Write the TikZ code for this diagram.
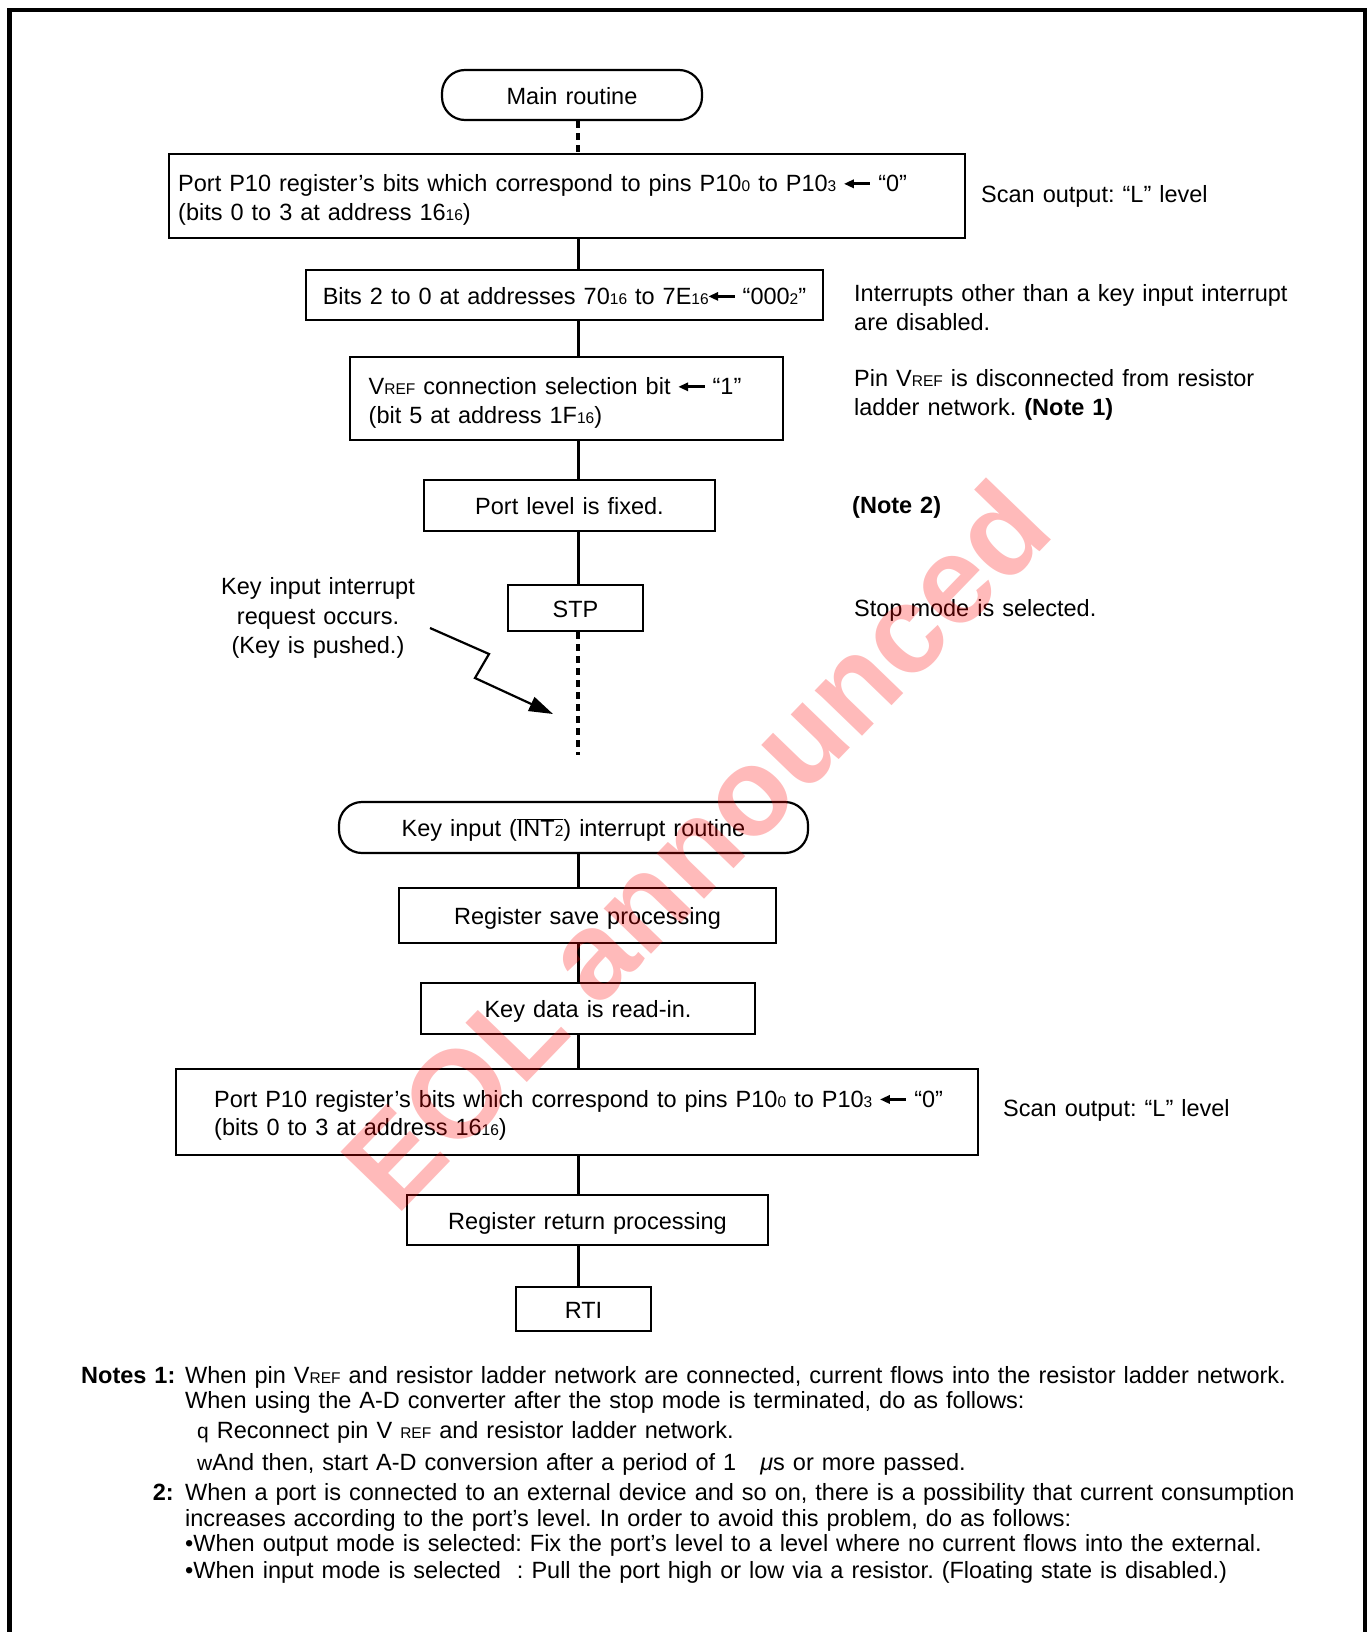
\documentclass[tikz,border=0pt]{standalone}
\usepackage{fontspec}
\setmainfont{Liberation Sans}
\usetikzlibrary{arrows.meta}
\frenchspacing
\protected\def\basefont{\fontsize{23.5}{28.5}\selectfont\spaceskip=8pt\relax}
\protected\def\keyfont{\fontsize{23.5}{29.5}\selectfont\spaceskip=8pt\relax}
\protected\def\wmfont{\bfseries\fontsize{124}{124}\selectfont\spaceskip=0pt\relax}
\newcommand\sm[1]{{\fontsize{15.5}{15.5}\selectfont #1}}
\newcommand\dng[1]{{\fontsize{21}{21}\selectfont #1}}
\newcommand\arr{\tikz[x=1pt,y=1pt,baseline=0pt]{\fill (0,8) -- (9.5,12.5) -- (9.5,3.5) -- cycle; \fill (8,6.5) rectangle (26,9.5);}}
\newcommand\ovl[1]{$\overline{\hbox{#1}}$}
\begin{document}
\begin{tikzpicture}[x=1pt,y=-1pt,
  font=\basefont,
  box/.style={draw, line width=2.2pt, inner sep=0pt, align=center, text height=18.8pt, text depth=0pt},
  term/.style={box, rounded corners=23pt},
  conn/.style={line width=3pt},
  dots/.style={line width=3.5pt, dash pattern=on 7pt off 5pt},
  lbl/.style={anchor=west, align=left, inner sep=0pt},
  nl/.style={anchor=base west, inner sep=0pt},
  frame/.style={line width=4.5pt}]
\useasboundingbox (0,0) rectangle (1371,1632);
\draw[frame] (9.5,1640) -- (9.5,10) -- (1365,10) -- (1365,1640);

\coordinate (cx) at (578,0);

% main flow
\node[term, minimum width=260pt, minimum height=50pt] (main) at (572,95) {Main routine};
\node[box, minimum width=796pt, minimum height=84pt] (b1) at (567,196) {};
\node[lbl] (b1t) at (178,200)
  {Port P10 register’s bits which correspond to pins P10\sm{0} to P10\sm{3} \arr{} “0”\\(bits 0 to 3 at address 16\sm{16})};
\node[box, minimum width=517pt, minimum height=50pt] (b2) at (564.5,295)
  {Bits 2 to 0 at addresses 70\sm{16} to 7E\sm{16}\arr{} “000\sm{2}”};
\node[box, minimum width=433pt, minimum height=83pt] (b3) at (566.5,398.5) {};
\node[lbl] (b3t) at (368.5,403)
  {V\sm{REF} connection selection bit \arr{} “1”\\(bit 5 at address 1F\sm{16})};
\node[box, minimum width=291pt, minimum height=51pt] (b4) at (569.5,505.5) {Port level is fixed.};
\node[box, minimum width=135pt, minimum height=46pt] (stp) at (575.5,608) {STP};
\coordinate (dotend) at (578,755);

\draw[dots] (main.south -| cx) -- (b1.north -| cx);
\draw[conn] (b1.south -| cx) -- (b2.north -| cx);
\draw[conn] (b2.south -| cx) -- (b3.north -| cx);
\draw[conn] (b3.south -| cx) -- (b4.north -| cx);
\draw[conn] (b4.south -| cx) -- (stp.north -| cx);
\draw[dots] (stp.south -| cx) -- (dotend);

% side notes
\node[lbl] (s1) at (981,196) {Scan output: “L” level};
\node[lbl] (s2) at (854,307.5) {Interrupts other than a key input interrupt\\are disabled.};
\node[lbl] (s3) at (854,395) {Pin V\sm{REF} is disconnected from resistor\\ladder network. \textbf{(Note 1)}};
\node[lbl] (s4) at (852,507) {\textbf{(Note 2)}};
\node[lbl] (s5) at (854,610) {Stop mode is selected.};

% key interrupt request
\node[align=center, inner sep=0pt, font=\keyfont] (kt) at (318,618) {Key input interrupt\\request occurs.\\(Key is pushed.)};
\coordinate (l0) at (430,628);
\coordinate (l1) at (489,654);
\coordinate (l2) at (475,678);
\coordinate (l3) at (553,714);
\draw[line width=2.2pt, -{Triangle[length=24pt,width=15pt]}] (l0) -- (l1) -- (l2) -- (l3);

% interrupt routine
\node[term, minimum width=469pt, minimum height=51pt] (kir) at (573.5,827.5) {Key input (\ovl{INT\sm{2}}) interrupt routine};
\node[box, minimum width=377pt, minimum height=55pt] (rs) at (587.5,915.5) {Register save processing};
\node[box, minimum width=334pt, minimum height=51pt] (kd) at (588,1008.5) {Key data is read-in.};
\node[box, minimum width=802pt, minimum height=86pt] (p2) at (577,1112) {};
\node[lbl] (p2t) at (214,1115.6)
  {Port P10 register’s bits which correspond to pins P10\sm{0} to P10\sm{3} \arr{} “0”\\(bits 0 to 3 at address 16\sm{16})};
\node[box, minimum width=361pt, minimum height=50pt] (rr) at (587.5,1220) {Register return processing};
\node[box, minimum width=135pt, minimum height=44pt] (rti) at (583.5,1309) {RTI};

\draw[conn] (kir.south -| cx) -- (rs.north -| cx);
\draw[conn] (rs.south -| cx) -- (kd.north -| cx);
\draw[conn] (kd.south -| cx) -- (p2.north -| cx);
\draw[conn] (p2.south -| cx) -- (rr.north -| cx);
\draw[conn] (rr.south -| cx) -- (rti.north -| cx);

\node[lbl] (s6) at (1003,1110) {Scan output: “L” level};

% notes
\node[nl] (n1h) at (81,1383) {\textbf{Notes 1:}};
\node[nl] (n1a) at (185,1383) {When pin V\sm{REF} and resistor ladder network are connected, current flows into the resistor ladder network.};
\node[nl] (n1b) at (185,1408) {When using the A-D converter after the stop mode is terminated, do as follows:};
\node[nl] (n1c) at (197,1438) {\dng{q} Reconnect pin V \sm{REF} and resistor ladder network.};
\node[nl] (n1d) at (197,1470) {\dng{w}And then, start A-D conversion after a period of 1 \ \ \textit{μ}s or more passed.};
\node[nl, anchor=base east] (n2h) at (174,1500) {\textbf{2:}};
\node[nl] (n2a) at (185,1500) {When a port is connected to an external device and so on, there is a possibility that current consumption};
\node[nl] (n2b) at (185,1526) {increases according to the port’s level. In order to avoid this problem, do as follows:};
\node[nl] (n2c) at (185,1551) {•When output mode is selected: Fix the port’s level to a level where no current flows into the external.};
\node[nl] (n2d) at (185,1578) {•When input mode is selected\ \ : Pull the port high or low via a resistor. (Floating state is disabled.)};

% watermark
\node[rotate=46, text=red, text opacity=0.27, inner sep=0pt, font=\wmfont] (wm) at (695,845) {EOL announced};
\end{tikzpicture}
\end{document}
